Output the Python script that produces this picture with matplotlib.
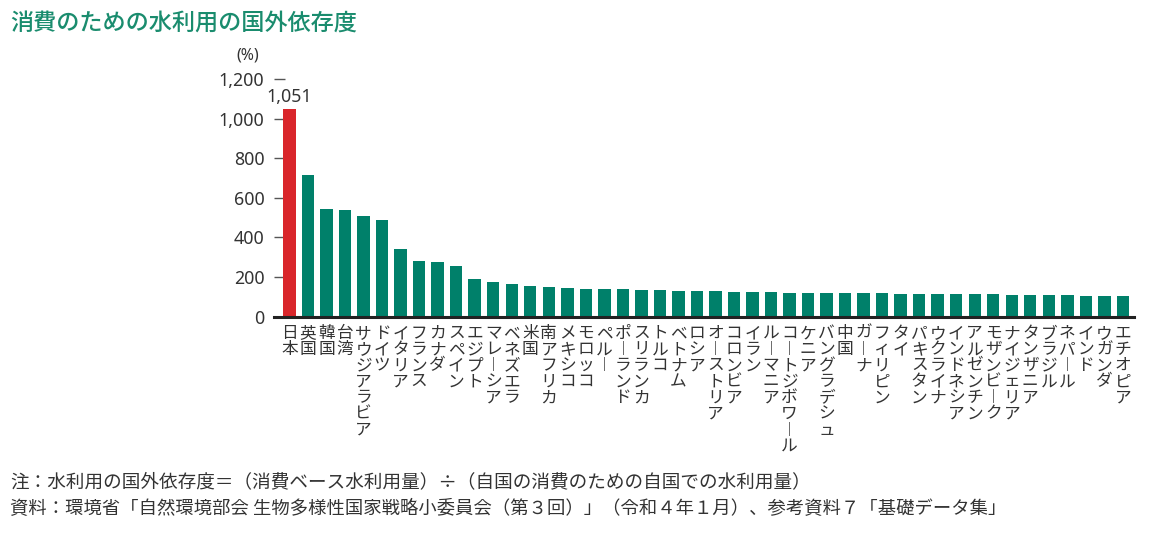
import matplotlib
matplotlib.use("Agg")
import matplotlib.pyplot as plt

plt.rcParams['font.family'] = ['Noto Sans CJK JP', 'DejaVu Sans']

title = "消費のための水利用の国外依存度"
countries = ["日本", "英国", "韓国", "台湾", "サウジアラビア", "ドイツ", "イタリア", "フランス",
             "カナダ", "スペイン", "エジプト", "マレーシア", "ベネズエラ", "米国", "南アフリカ",
             "メキシコ", "モロッコ", "ペルー", "ポーランド", "スリランカ", "トルコ", "ベトナム",
             "ロシア", "オーストリア", "コロンビア", "イラン", "ルーマニア", "コートジボワール",
             "ケニア", "バングラデシュ", "中国", "ガーナ", "フィリピン", "タイ", "パキスタン",
             "ウクライナ", "インドネシア", "アルゼンチン", "モザンビーク", "ナイジェリア",
             "タンザニア", "ブラジル", "ネパール", "インド", "ウガンダ", "エチオピア"]
values = [1051, 714, 546, 541, 507, 487, 341, 281, 276, 255, 190, 175, 165, 155, 150,
          145, 139, 139, 139, 134, 134, 129, 129, 129, 124, 124, 124, 119, 119, 119, 119,
          119, 118, 116, 113, 113, 113, 113, 113, 108, 108, 108, 108, 103, 103, 103]
yticks = [0, 200, 400, 600, 800, 1000, 1200]
ytick_labels = ["0", "200", "400", "600", "800", "1,000", "1,200"]
highlight_label = "1,051"
note1 = "注：水利用の国外依存度＝（消費ベース水利用量）÷（自国の消費のための自国での水利用量）"
note2 = "資料：環境省「自然環境部会 生物多様性国家戦略小委員会（第３回）」（令和４年１月）、参考資料７「基礎データ集」"

RED = "#d9262b"
GREEN = "#00806a"
TITLE_GREEN = "#1a8c6e"
TEXT = "#333333"

fig = plt.figure(figsize=(11.5, 5.36), dpi=100)
ax = fig.add_axes([274 / 1150, 1 - 316.7 / 536, (1134 - 274) / 1150, (316.7 - 79) / 536])

x = list(range(len(countries)))
colors = [RED] + [GREEN] * (len(countries) - 1)
ax.bar(x, values, width=0.67, color=colors, zorder=2)

ax.set_xlim(-0.837, 45.6)
ax.set_ylim(0, 1200)
ax.set_yticks(yticks)
ax.set_yticklabels(ytick_labels, fontsize=12.8, color=TEXT, family=['Noto Sans', 'DejaVu Sans'])
ax.tick_params(axis='y', direction='in', length=8, width=1, color='#555555', pad=7)
ax.tick_params(axis='x', length=0, pad=6)

def vert(s):
    return "\n".join("︱" if c == "ー" else c for c in s)

ax.set_xticks(x)
ax.set_xticklabels([vert(c) for c in countries], fontsize=12, color=TEXT,
                   linespacing=0.93, va='top')

for side in ['left', 'right', 'top']:
    ax.spines[side].set_visible(False)
ax.spines['bottom'].set_color('#222222')
ax.spines['bottom'].set_linewidth(2.2)
ax.spines['bottom'].set_zorder(3)

ax.text(0, values[0] + 12, highlight_label, ha='center', va='bottom', fontsize=12.8,
        color=TEXT, family=['Noto Sans', 'DejaVu Sans'])

fig.text(248 / 1150, 1 - 56 / 536, "(%)", ha='center', va='center', fontsize=11.5,
         color=TEXT, family=['Noto Sans', 'DejaVu Sans'])

fig.text(10 / 1150, 1 - 23 / 536, title, ha='left', va='center', fontsize=16.7,
         color=TITLE_GREEN, fontweight='medium')

fig.text(10 / 1150, 1 - 482 / 536, note1, ha='left', va='center', fontsize=13.4, color=TEXT)
fig.text(10 / 1150, 1 - 509 / 536, note2, ha='left', va='center', fontsize=13.2, color=TEXT)

fig.savefig("out.png", dpi=100, facecolor='white')
